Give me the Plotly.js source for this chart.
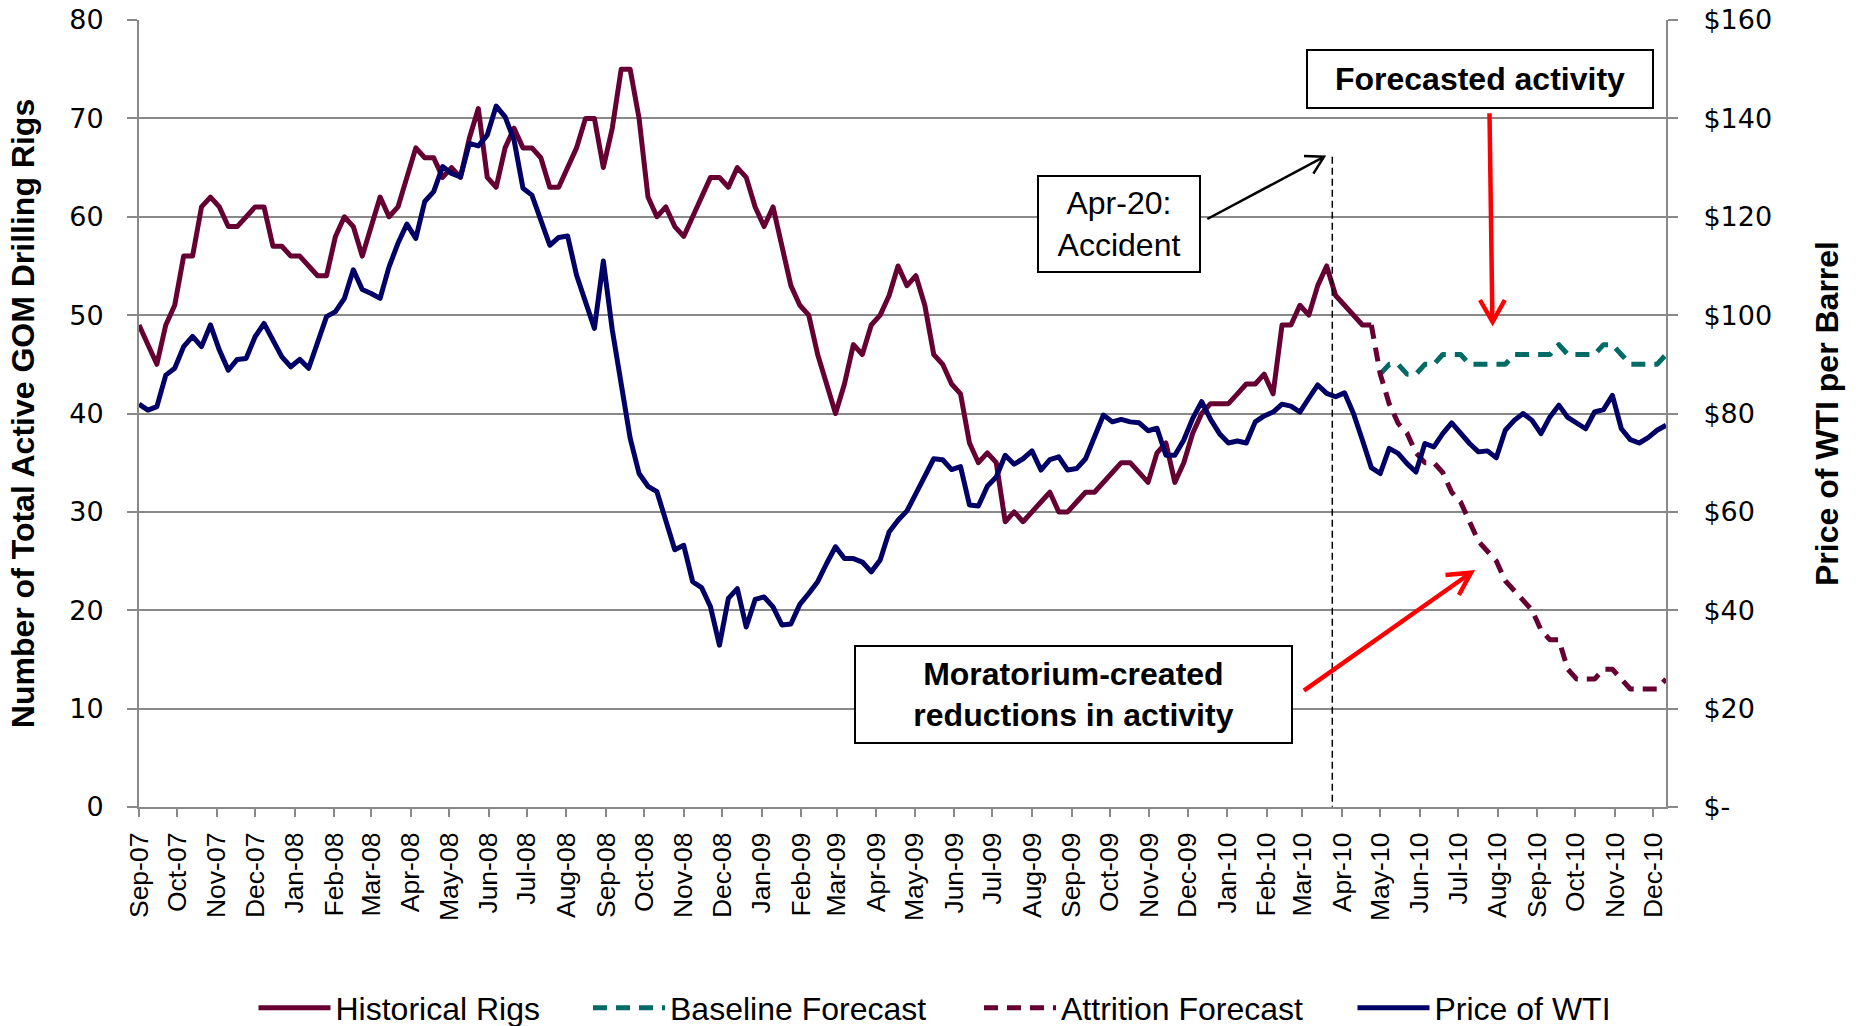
<!DOCTYPE html>
<html>
<head>
<meta charset="utf-8">
<script src="https://cdn.plot.ly/plotly-3.0.1.min.js"></script>
<style>
  html, body { margin: 0; padding: 0; background: #ffffff; }
  #chart { width: 1859px; height: 1026px; }
  .scatterlayer .js-line { stroke-linejoin: round; }
</style>
</head>
<body>
<div id="chart"></div>
<script>
// ---------------- DATA ----------------
// Weekly observations; week 0 is the first week shown on the axis.
const firstWeek = '2007-09-07';

// Historical Rigs: weeks 0..138
const historicalRigs = [
  49,47,45,49,51,56,56,61,62,61,
  59,59,60,61,61,57,57,56,56,55,
  54,54,58,60,59,56,59,62,60,61,
  64,67,66,66,64,65,64,68,71,64,
  63,67,69,67,67,66,63,63,65,67,
  70,70,65,69,75,75,70,62,60,61,
  59,58,60,62,64,64,63,65,64,61,
  59,61,57,53,51,50,46,43,40,43,
  47,46,49,50,52,55,53,54,51,46,
  45,43,42,37,35,36,35,29,30,29,
  30,31,32,30,30,31,32,32,33,34,
  35,35,34,33,36,37,33,35,38,40,
  41,41,41,42,43,43,44,42,49,49,
  51,50,53,55,52,51,50,49,49
];
const historicalStart = 0;

// Baseline Forecast: weeks 139..171
const baselineForecast = [
  44,45,45,44,44,45,45,46,46,46,
  45,45,45,45,45,46,46,46,46,46,
  47,46,46,46,46,47,47,46,45,45,
  45,45,46
];
const baselineStart = 139;

// Attrition Forecast: weeks 138..171
const attritionForecast = [
  49,44,41,39,38,36,35,35,34,32,
  31,29,27,26,25,23,22,21,20,18,
  17,17,14,13,13,13,14,14,13,12,
  12,12,12,13
];
const attritionStart = 138;

// Price of WTI ($/bbl): weeks 0..171
const wtiPrice = [
  81.9,80.7,81.4,87.8,89.2,93.6,95.7,93.6,98,92.9,
  88.8,91,91.2,95.6,98.3,94.9,91.5,89.5,91,89.2,
  94.2,99.7,100.7,103.4,109.2,105.2,104.4,103.4,109.8,114.6,
  118.5,115.6,123.1,125.1,130.2,128.8,128.1,134.9,134.4,136.6,
  142.5,140.3,135.6,125.8,124.4,119,114.2,115.8,116.1,108.1,
  102.7,97.3,111,97,86,75,67.8,65.2,64.1,58.3,
  52.3,53.2,45.8,44.6,40.7,32.9,42.4,44.4,36.6,42.2,
  42.7,40.7,37,37.2,41.2,43.4,45.8,49.5,52.9,50.5,
  50.5,49.8,47.8,50.2,55.9,58.3,60.2,63.7,67.5,70.8,
  70.6,68.6,69.2,61.4,61.2,65.2,67.1,71.5,69.7,70.8,
  72.4,68.5,70.6,71.2,68.5,68.8,70.8,75.6,79.7,78.3,
  78.8,78.3,78.1,76.5,77,71.5,71.5,74.6,79,82.4,
  78.8,75.9,74,74.4,74,78.3,79.5,80.3,81.9,81.5,
  80.3,83.1,85.8,84.1,83.4,84.2,80,74.6,69,67.8,
  72.9,71.9,69.8,68.1,73.9,73.2,75.9,78.1,75.8,73.9,
  72.2,72.4,71,76.6,78.6,80,78.6,75.9,79.3,81.7,
  79.2,78.1,76.9,80.3,80.8,83.7,76.9,74.7,74,75.1,
  76.6,77.6
];
const priceStart = 0;

const seriesNames = ['Historical Rigs', 'Baseline Forecast', 'Attrition Forecast', 'Price of WTI'];
const leftTitle = 'Number of Total Active GOM Drilling Rigs';
const rightTitle = 'Price of WTI per Barrel';
const leftTicks = [0,10,20,30,40,50,60,70,80];
const rightTickVals = [0,20,40,60,80,100,120,140,160];
const rightTickText = ['$-','$20','$40','$60','$80','$100','$120','$140','$160'];
const axisEnd = '2010-12-17';

// ---------------- HELPERS ----------------
function weekDates(start, n) {
  const base = new Date(firstWeek + 'T00:00:00Z').getTime();
  const out = [];
  for (let k = 0; k < n; k++) {
    const d = new Date(base + (start + k) * 7 * 86400000);
    out.push(d.toISOString().slice(0, 10));
  }
  return out;
}

// plot area in pixels (for placing decorations)
const PL = 139, PR = 1666, PT = 20, PB = 807;
const px = x => (x - PL) / (PR - PL);
const py = y => (PB - y) / (PB - PT);

const MAROON = '#660033', NAVY = '#000066', TEAL = '#006b66';
const FONT = 'Liberation Sans, Arial, sans-serif';
const TICKFONT = 'DejaVu Sans, Verdana, sans-serif';
const GRID = '#898989';
const LW = 5;
const NB = '\u00a0\u00a0';  // small lead-in so the rotated titles sit slightly above centre, as in the original

const traces = [
  { x: weekDates(historicalStart, historicalRigs.length), y: historicalRigs, name: seriesNames[0],
    type: 'scatter', mode: 'lines', line: { color: MAROON, width: LW }, legend: 'legend' },
  { x: weekDates(baselineStart, baselineForecast.length), y: baselineForecast, name: seriesNames[1],
    type: 'scatter', mode: 'lines', line: { color: TEAL, width: LW, dash: '14px,9px' }, legend: 'legend2' },
  { x: weekDates(attritionStart, attritionForecast.length), y: attritionForecast, name: seriesNames[2],
    type: 'scatter', mode: 'lines', line: { color: MAROON, width: LW, dash: '14px,9px' }, legend: 'legend3' },
  { x: weekDates(priceStart, wtiPrice.length), y: wtiPrice, name: seriesNames[3], yaxis: 'y2',
    type: 'scatter', mode: 'lines', line: { color: NAVY, width: LW }, legend: 'legend4' }
];

function legendAt(xPx) {
  return { x: px(xPx), xanchor: 'left', y: py(1008), yanchor: 'middle', orientation: 'h',
           font: { family: FONT, size: 32, color: '#000' }, itemwidth: 72, bgcolor: 'rgba(0,0,0,0)' };
}

function seg(x0, y0, x1, y1, color, width, dash) {
  return { type: 'line', xref: 'paper', yref: 'paper', x0: px(x0), y0: py(y0), x1: px(x1), y1: py(y1),
           line: { color: color, width: width, dash: dash || 'solid' }, layer: 'above' };
}
function head(ax, ay, tx, ty, bx, by, color, width) {
  return { type: 'path', xref: 'paper', yref: 'paper',
           path: 'M' + px(ax) + ',' + py(ay) + ' L' + px(tx) + ',' + py(ty) + ' L' + px(bx) + ',' + py(by),
           line: { color: color, width: width }, layer: 'above' };
}
function box(text, cx, cy, w, h) {
  return { text: text, xref: 'paper', yref: 'paper', x: px(cx), y: py(cy), xanchor: 'center', yanchor: 'middle',
           showarrow: false, width: w, height: h, borderpad: 0, borderwidth: 2, bordercolor: '#000',
           bgcolor: '#ffffff', font: { family: FONT, size: 32, color: '#000' }, align: 'center', valign: 'middle' };
}

const layout = {
  width: 1859, height: 1026,
  margin: { l: PL, r: 1859 - PR, t: PT, b: 1026 - PB, pad: 0, autoexpand: false },
  paper_bgcolor: '#ffffff', plot_bgcolor: '#ffffff',
  showlegend: true,
  legend: legendAt(253.5),
  legend2: legendAt(588),
  legend3: legendAt(979),
  legend4: legendAt(1352.5),
  xaxis: {
    type: 'date', range: [firstWeek, axisEnd], tick0: firstWeek, dtick: 'M1', tickformat: '%b-%y',
    tickangle: -90, ticks: 'outside', ticklen: 8, tickwidth: 2, tickcolor: GRID,
    showline: true, linecolor: GRID, linewidth: 2, showgrid: false, zeroline: false,
    tickfont: { family: FONT, size: 26.5, color: '#000' }, ticklabelstandoff: 5, automargin: false
  },
  yaxis: {
    range: [0, 80], tickvals: leftTicks, ticks: 'outside', ticklen: 10, tickwidth: 2, tickcolor: GRID,
    showline: true, linecolor: GRID, linewidth: 2, showgrid: true, gridcolor: GRID, gridwidth: 2, zeroline: false,
    tickfont: { family: TICKFONT, size: 27, color: '#000' }, ticklabelstandoff: 18,
    title: { text: NB + leftTitle, standoff: 25,
             font: { family: FONT, size: 32, color: '#000', weight: 'bold' } },
    automargin: false
  },
  yaxis2: {
    overlaying: 'y', side: 'right', range: [0, 160], tickvals: rightTickVals, ticktext: rightTickText,
    ticks: 'outside', ticklen: 10, tickwidth: 2, tickcolor: GRID,
    showline: true, linecolor: GRID, linewidth: 2, showgrid: false, zeroline: false,
    tickfont: { family: TICKFONT, size: 27, color: '#000' }, ticklabelstandoff: 20,
    title: { text: NB + rightTitle, standoff: 44,
             font: { family: FONT, size: 32, color: '#000', weight: 'bold' } },
    automargin: false
  },
  shapes: [
    seg(1332.3, 156.7, 1332.3, 806.7, '#000000', 1.5, '7px,4px'),
    seg(1207.3, 219, 1322, 157.8, '#000000', 2.5),
    head(1304, 156, 1324, 156.7, 1313.4, 173.7, '#000000', 2.5),
    seg(1489.5, 113.3, 1492.4, 319, '#ff0000', 4.5),
    head(1480, 300, 1492.6, 322, 1504.8, 300, '#ff0000', 4.5),
    seg(1303.9, 690.7, 1468.5, 574.5, '#ff0000', 4.5),
    head(1445.5, 575, 1471.1, 572.7, 1458.9, 595, '#ff0000', 4.5)
  ],
  annotations: [
    box('Apr-20:<br>Accident', 1118.7, 224.3, 160, 94),
    box('<b>Forecasted activity</b>', 1480.2, 79.2, 344, 56),
    box('<b>Moratorium-created</b><br><b>reductions in activity</b>', 1073.7, 694.3, 435, 95)
  ],
  hovermode: false
};

Plotly.newPlot('chart', traces, layout, { displayModeBar: false, staticPlot: true });
</script>
</body>
</html>
